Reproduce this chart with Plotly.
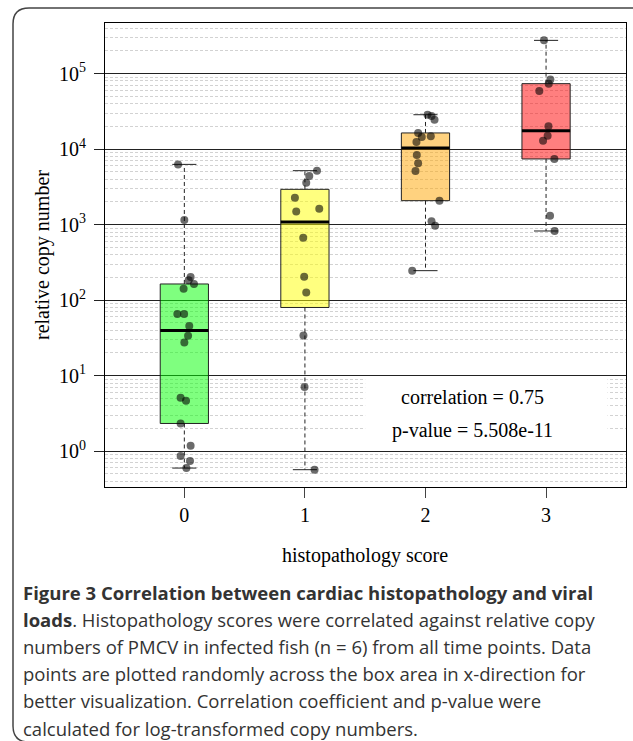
import numpy as np
import plotly.graph_objects as go

# ---------------- data ----------------
scores = [0, 1, 2, 3]
score_labels = ["0", "1", "2", "3"]
box_colors = ["rgba(0,255,0,0.5)", "rgba(255,255,0,0.5)",
              "rgba(255,165,0,0.5)", "rgba(255,0,0,0.5)"]
y_exponents = [0, 1, 2, 3, 4, 5]

copies_0 = [6290, 1150, 203, 183, 164, 142, 65.6, 65.6, 45.5, 33.9, 27.6,
            5.11, 4.67, 2.33, 1.18, 0.863, 0.741, 0.598]
jitter_0 = [-0.052, 0.0, 0.052, 0.036, 0.080, -0.006, -0.058, -0.002, 0.041,
            0.031, 0.0, -0.031, 0.014, -0.031, 0.052, -0.031, 0.047, 0.017]

copies_1 = [5190, 4400, 3600, 2278, 1630, 1500, 673, 205, 126, 34.2, 7.08, 0.569]
jitter_1 = [0.10, 0.036, 0.011, -0.083, 0.119, -0.072, -0.014, -0.006, 0.011,
            -0.012, -0.003, 0.080]

copies_2 = [28600, 27500, 24500, 16400, 14500, 14800, 12400, 8380, 6490, 5140,
            2080, 1107, 971, 246]
jitter_2 = [0.017, 0.05, 0.075, -0.061, -0.031, 0.044, -0.075, -0.072, -0.061,
            -0.083, 0.116, 0.05, 0.08, -0.11]

copies_3 = [276000, 83400, 73700, 59000, 20060, 15100, 12970, 7420, 1316, 825]
jitter_3 = [-0.017, 0.036, 0.022, -0.056, 0.02, 0.013, -0.025, 0.069, 0.033, 0.071]

groups_copies = [copies_0, copies_1, copies_2, copies_3]
groups_jitter = [jitter_0, jitter_1, jitter_2, jitter_3]

correlation_text = "correlation = 0.75"
pvalue_text = "p-value = 5.508e-11"

caption_lines = [
    "<b>Figure 3 Correlation between cardiac histopathology and viral</b>",
    "<b>loads</b>. Histopathology scores were correlated against relative copy",
    "numbers of PMCV in infected fish (n = 6) from all time points. Data",
    "points are plotted randomly across the box area in x-direction for",
    "better visualization. Correlation coefficient and p-value were",
    "calculated for log-transformed copy numbers.",
]


def fivenum(v):
    x = np.sort(np.asarray(v, dtype=float))
    n = len(x)
    n4 = np.floor((n + 3) / 2) / 2
    d = np.array([1, n4, (n + 1) / 2, n + 1 - n4, n]) - 1
    return 0.5 * (x[np.floor(d).astype(int)] + x[np.ceil(d).astype(int)])


# ---------------- geometry ----------------
W, H = 633, 741
L, R, T, B = 105, 7, 23, 254
PW, PH = W - L - R, H - T - B
XR = [-0.658, 3.663]
YR = [-0.474, 5.671]


def pxx(px):
    return (px - L) / PW


def pxy(py):
    return (H - B - py) / PH


SERIF = "Liberation Serif"
SANS = "Open Sans"

fig = go.Figure()
half_w = 0.2
cap_w = 0.1

for s, vals, jit, col in zip(scores, groups_copies, groups_jitter, box_colors):
    mn, q1, med, q3, mx = fivenum(vals)
    # box
    fig.add_trace(go.Scatter(
        x=[s - half_w, s + half_w, s + half_w, s - half_w, s - half_w],
        y=[q1, q1, q3, q3, q1], mode="lines", fill="toself", fillcolor=col,
        line=dict(color="#222222", width=1), hoverinfo="skip", showlegend=False))
    # whiskers
    for a, b in ((q3, mx), (q1, mn)):
        fig.add_trace(go.Scatter(
            x=[s, s], y=[a, b], mode="lines",
            line=dict(color="#222222", width=1, dash="4px,3px"),
            hoverinfo="skip", showlegend=False))
        fig.add_trace(go.Scatter(
            x=[s - cap_w, s + cap_w], y=[b, b], mode="lines",
            line=dict(color="#222222", width=1),
            hoverinfo="skip", showlegend=False))
    # median
    fig.add_trace(go.Scatter(
        x=[s - half_w, s + half_w], y=[med, med], mode="lines",
        line=dict(color="black", width=3), hoverinfo="skip", showlegend=False))

for s, vals, jit in zip(scores, groups_copies, groups_jitter):
    fig.add_trace(go.Scatter(
        x=[s + j for j in jit], y=vals, mode="markers",
        marker=dict(size=8, color="rgba(0,0,0,0.58)", line=dict(width=0)),
        showlegend=False))

# white legend box (covers minor gridlines; no data lies in that region)
fig.add_shape(type="rect", xref="x", yref="y", x0=1.5, x1=3.51,
              y0=10 ** 0.03, y1=10 ** 0.97, fillcolor="white",
              line=dict(width=0), layer="above")

annotations = [
    dict(text=correlation_text, x=pxx(472.5), y=pxy(397), xref="paper", yref="paper",
         showarrow=False, xanchor="center", yanchor="middle",
         font=dict(family=SERIF, size=20, color="black")),
    dict(text=pvalue_text, x=pxx(472.5), y=pxy(430), xref="paper", yref="paper",
         showarrow=False, xanchor="center", yanchor="middle",
         font=dict(family=SERIF, size=20, color="black")),
    dict(text="histopathology score", x=pxx(365), y=pxy(555), xref="paper", yref="paper",
         showarrow=False, xanchor="center", yanchor="middle",
         font=dict(family=SERIF, size=20, color="black")),
    dict(text="relative copy number", x=pxx(42), y=pxy(255), xref="paper", yref="paper",
         showarrow=False, xanchor="center", yanchor="middle", textangle=-90,
         font=dict(family=SERIF, size=20, color="black")),
]
line_y0 = 592
for i, t in enumerate(caption_lines):
    annotations.append(dict(
        text=t, x=pxx(21), y=pxy(line_y0 + 27.2 * i), xref="paper", yref="paper",
        showarrow=False, xanchor="left", yanchor="middle",
        font=dict(family=SANS, size=18.5, color="#333333")))

# rounded outer border (left corners visible, right side off-canvas)
r = 16
x0p, x1p, y0p, y1p = 13, 640, 8, 742
path = (f"M {pxx(x1p)},{pxy(y0p)} L {pxx(x0p + r)},{pxy(y0p)} "
        f"Q {pxx(x0p)},{pxy(y0p)} {pxx(x0p)},{pxy(y0p + r)} "
        f"L {pxx(x0p)},{pxy(y1p - r)} "
        f"Q {pxx(x0p)},{pxy(y1p)} {pxx(x0p + r)},{pxy(y1p)} "
        f"L {pxx(x1p)},{pxy(y1p)}")
fig.add_shape(type="path", path=path, xref="paper", yref="paper",
              line=dict(color="#444444", width=1.5), layer="above")

fig.update_layout(
    width=W, height=H, margin=dict(l=L, r=R, t=T, b=B, pad=0),
    paper_bgcolor="white", plot_bgcolor="white",
    showlegend=False, annotations=annotations,
    xaxis=dict(range=XR, tickvals=scores, ticktext=score_labels,
               ticks="outside", ticklen=10, tickcolor="#444444",
               showgrid=False, zeroline=False,
               showline=True, mirror=True, linecolor="black", linewidth=1,
               tickfont=dict(family=SERIF, size=20, color="black")),
    yaxis=dict(type="log", range=YR,
               tickvals=[10 ** e for e in y_exponents],
               ticktext=[f"10<sup>{e}</sup>" for e in y_exponents],
               ticks="outside", ticklen=10, tickcolor="#222222",
               ticklabelstandoff=4,
               showgrid=True, gridcolor="#222222", gridwidth=1,
               zeroline=False,
               showline=True, mirror=True, linecolor="black", linewidth=1,
               tickfont=dict(family=SERIF, size=20, color="black"),
               minor=dict(dtick="D1", showgrid=True, gridcolor="#d2d2d2",
                          griddash="3px,2px", gridwidth=1, ticks="")),
)

fig.write_html("out.html",
               config={"displayModeBar": False},
               post_script="document.body.style.margin='0';"
                           "document.body.style.overflow='hidden';")
